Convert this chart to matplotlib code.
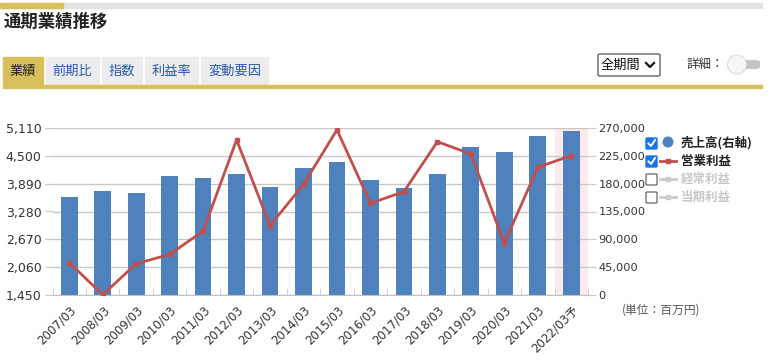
import numpy as np
import matplotlib
matplotlib.use('Agg')
import matplotlib.pyplot as plt
from matplotlib.patches import Rectangle, FancyBboxPatch, Ellipse
from matplotlib.lines import Line2D

plt.rcParams['font.family'] = ['DejaVu Sans', 'Noto Sans CJK JP']

years = ['2007/03', '2008/03', '2009/03', '2010/03', '2011/03', '2012/03',
         '2013/03', '2014/03', '2015/03', '2016/03', '2017/03', '2018/03',
         '2019/03', '2020/03', '2021/03', '2022/03予']
sales = [158500, 168000, 165000, 192500, 189500, 195500, 175000, 206000,
         215000, 186000, 173500, 195500, 239500, 231000, 257000, 265000]
op_profit = [2160, 1455, 2135, 2340, 2850, 4850, 2970, 3875,
             5070, 3460, 3715, 4810, 4540, 2585, 4250, 4505]
left_ticks = [1450, 2060, 2670, 3280, 3890, 4500, 5110]
right_ticks = [0, 45000, 90000, 135000, 180000, 225000, 270000]

W, H = 774, 361
fig = plt.figure(figsize=(W / 100, H / 100), dpi=100)

def px(x, y):
    return x / W, 1 - y / H

def box(x0, y0, x1, y1, color, **kw):
    fig.patches.append(Rectangle((x0 / W, 1 - y1 / H), (x1 - x0) / W, (y1 - y0) / H,
                                 transform=fig.transFigure, color=color, **kw))

def dot(x, y, r, **kw):
    fig.patches.append(Ellipse(px(x, y), 2 * r / W, 2 * r / H, transform=fig.transFigure, **kw))

gold = '#d9bf5c'
jp = ['Noto Sans CJK JP']

# header
box(0, 3, 762, 8, '#e3e3e3')
box(0, 3, 63, 8, gold)
fig.text(*px(4, 22), '通期業績推移', fontsize=12.5, fontweight='bold',
         color='#222222', va='center', family=jp)

# tabs
tabs = [('業績', 3, 43), ('前期比', 46, 99), ('指数', 102, 142),
        ('利益率', 145, 198), ('変動要因', 201, 268)]
for i, (t, a, b) in enumerate(tabs):
    box(a, 57, b, 86, gold if i == 0 else '#ececec')
    fig.text(*px((a + b) / 2, 71.5), t, fontsize=9.5, ha='center', va='center',
             color='#222222' if i == 0 else '#2b5aa5', family=jp)
box(3, 85, 762, 88, gold)

# dropdown and toggle
fig.patches.append(FancyBboxPatch(px(598, 76), 62 / W, 22 / H, boxstyle='round,pad=0,rounding_size=0.003',
                                  transform=fig.transFigure, fc='white', ec='#555555', lw=0.9))
fig.text(*px(601, 65), '全期間', fontsize=9.5, va='center', color='#111111', family=jp)
fig.lines.append(Line2D([646 / W, 650 / W, 654 / W], [1 - 63 / H, 1 - 67 / H, 1 - 63 / H],
                        transform=fig.transFigure, color='#111111', lw=1.6))
fig.text(*px(687, 65), '詳細：', fontsize=9, va='center', color='#333333', family=jp)
fig.patches.append(FancyBboxPatch(px(731, 69), 29 / W, 9 / H, boxstyle='round,pad=0,rounding_size=0.006',
                                  transform=fig.transFigure, fc='#c4c4c4', ec='none'))
dot(737, 64.5, 9.5, fc='#f6f6f6', ec='#d6d6d6', lw=0.6)

# chart
ax = fig.add_axes([52.5 / W, 1 - 295 / H, 535.5 / W, 167 / H])
x = np.arange(len(years))
ax.axvspan(14.5, 15.5, color='#fdeaea', zorder=0, lw=0)
ax.bar(x, sales, width=0.5, color='#4f81bd', zorder=2)
ax.set_xlim(-0.5, len(years) - 0.5)
ax.set_ylim(0, 270000)
ax.grid(axis='y', color='#c8c8c8', lw=1, zorder=1)
ax.set_axisbelow(True)
for s in ['left', 'right', 'top']:
    ax.spines[s].set_visible(False)
ax.spines['bottom'].set_color('#c0c0c0')
ax.set_xticks(x)
ax.set_xticklabels(years, rotation=45, ha='right', rotation_mode='anchor')
ax.tick_params(axis='x', which='major', length=0, labelsize=8.5, labelcolor='#333333', pad=6)
ax.set_xticks(np.arange(-0.5, len(years), 1), minor=True)
ax.tick_params(axis='x', which='minor', direction='in', length=5, color='#c8c8c8')

ax2 = ax.twinx()
ax2.plot(x, op_profit, color='#c0504d', lw=2, marker='s', ms=3.5, zorder=3)
ax2.set_ylim(1450, 5110)
ax2.set_yticks(left_ticks)
ax2.set_yticklabels([f'{v:,}' for v in left_ticks])
ax2.yaxis.tick_left()
for s in ax2.spines.values():
    s.set_visible(False)
ax2.tick_params(axis='y', length=6, color='#c8c8c8', labelsize=9, labelcolor='#333333', pad=2)

ax.yaxis.tick_right()
ax.set_yticks(right_ticks)
ax.set_yticklabels([f'{v:,}' for v in right_ticks])
ax.tick_params(axis='y', length=6, color='#c8c8c8', labelsize=8.2, labelcolor='#333333', pad=1.5)

# legend
rows = [('売上高(右軸)', 143, True, 'bar'), ('営業利益', 161, True, 'line'),
        ('経常利益', 179, False, 'off'), ('当期利益', 197, False, 'off')]
for label, y, on, kind in rows:
    if on:
        fig.patches.append(FancyBboxPatch(px(646, y + 6), 11 / W, 11 / H,
                                          boxstyle='round,pad=0,rounding_size=0.002',
                                          transform=fig.transFigure, fc='#1a73e8', ec='#1a73e8'))
        fig.lines.append(Line2D([648.5 / W, 651 / W, 655 / W],
                                [1 - (y + 0.5) / H, 1 - (y + 3) / H, 1 - (y - 3) / H],
                                transform=fig.transFigure, color='white', lw=1.4))
    else:
        fig.patches.append(FancyBboxPatch(px(646, y + 6), 11 / W, 11 / H,
                                          boxstyle='round,pad=0,rounding_size=0.002',
                                          transform=fig.transFigure, fc='white', ec='#666666', lw=0.9))
    if kind == 'bar':
        dot(668, y - 1, 5.5, fc='#4f81bd', ec='none')
    else:
        c = '#c0504d' if kind == 'line' else '#cccccc'
        fig.lines.append(Line2D([660 / W, 676 / W], [1 - y / H, 1 - y / H],
                                transform=fig.transFigure, color=c, lw=2))
        fig.lines.append(Line2D([668 / W], [1 - y / H], transform=fig.transFigure,
                                color=c, marker='s', ms=3))
    fig.text(*px(681, y), label, fontsize=9, fontweight='bold', va='center',
             color='#222222' if on else '#c8c8c8', family=jp)

fig.text(*px(622, 310), '(単位：百万円)', fontsize=8.5, va='center', color='#555555', family=jp)

fig.savefig('out.png', dpi=100)
